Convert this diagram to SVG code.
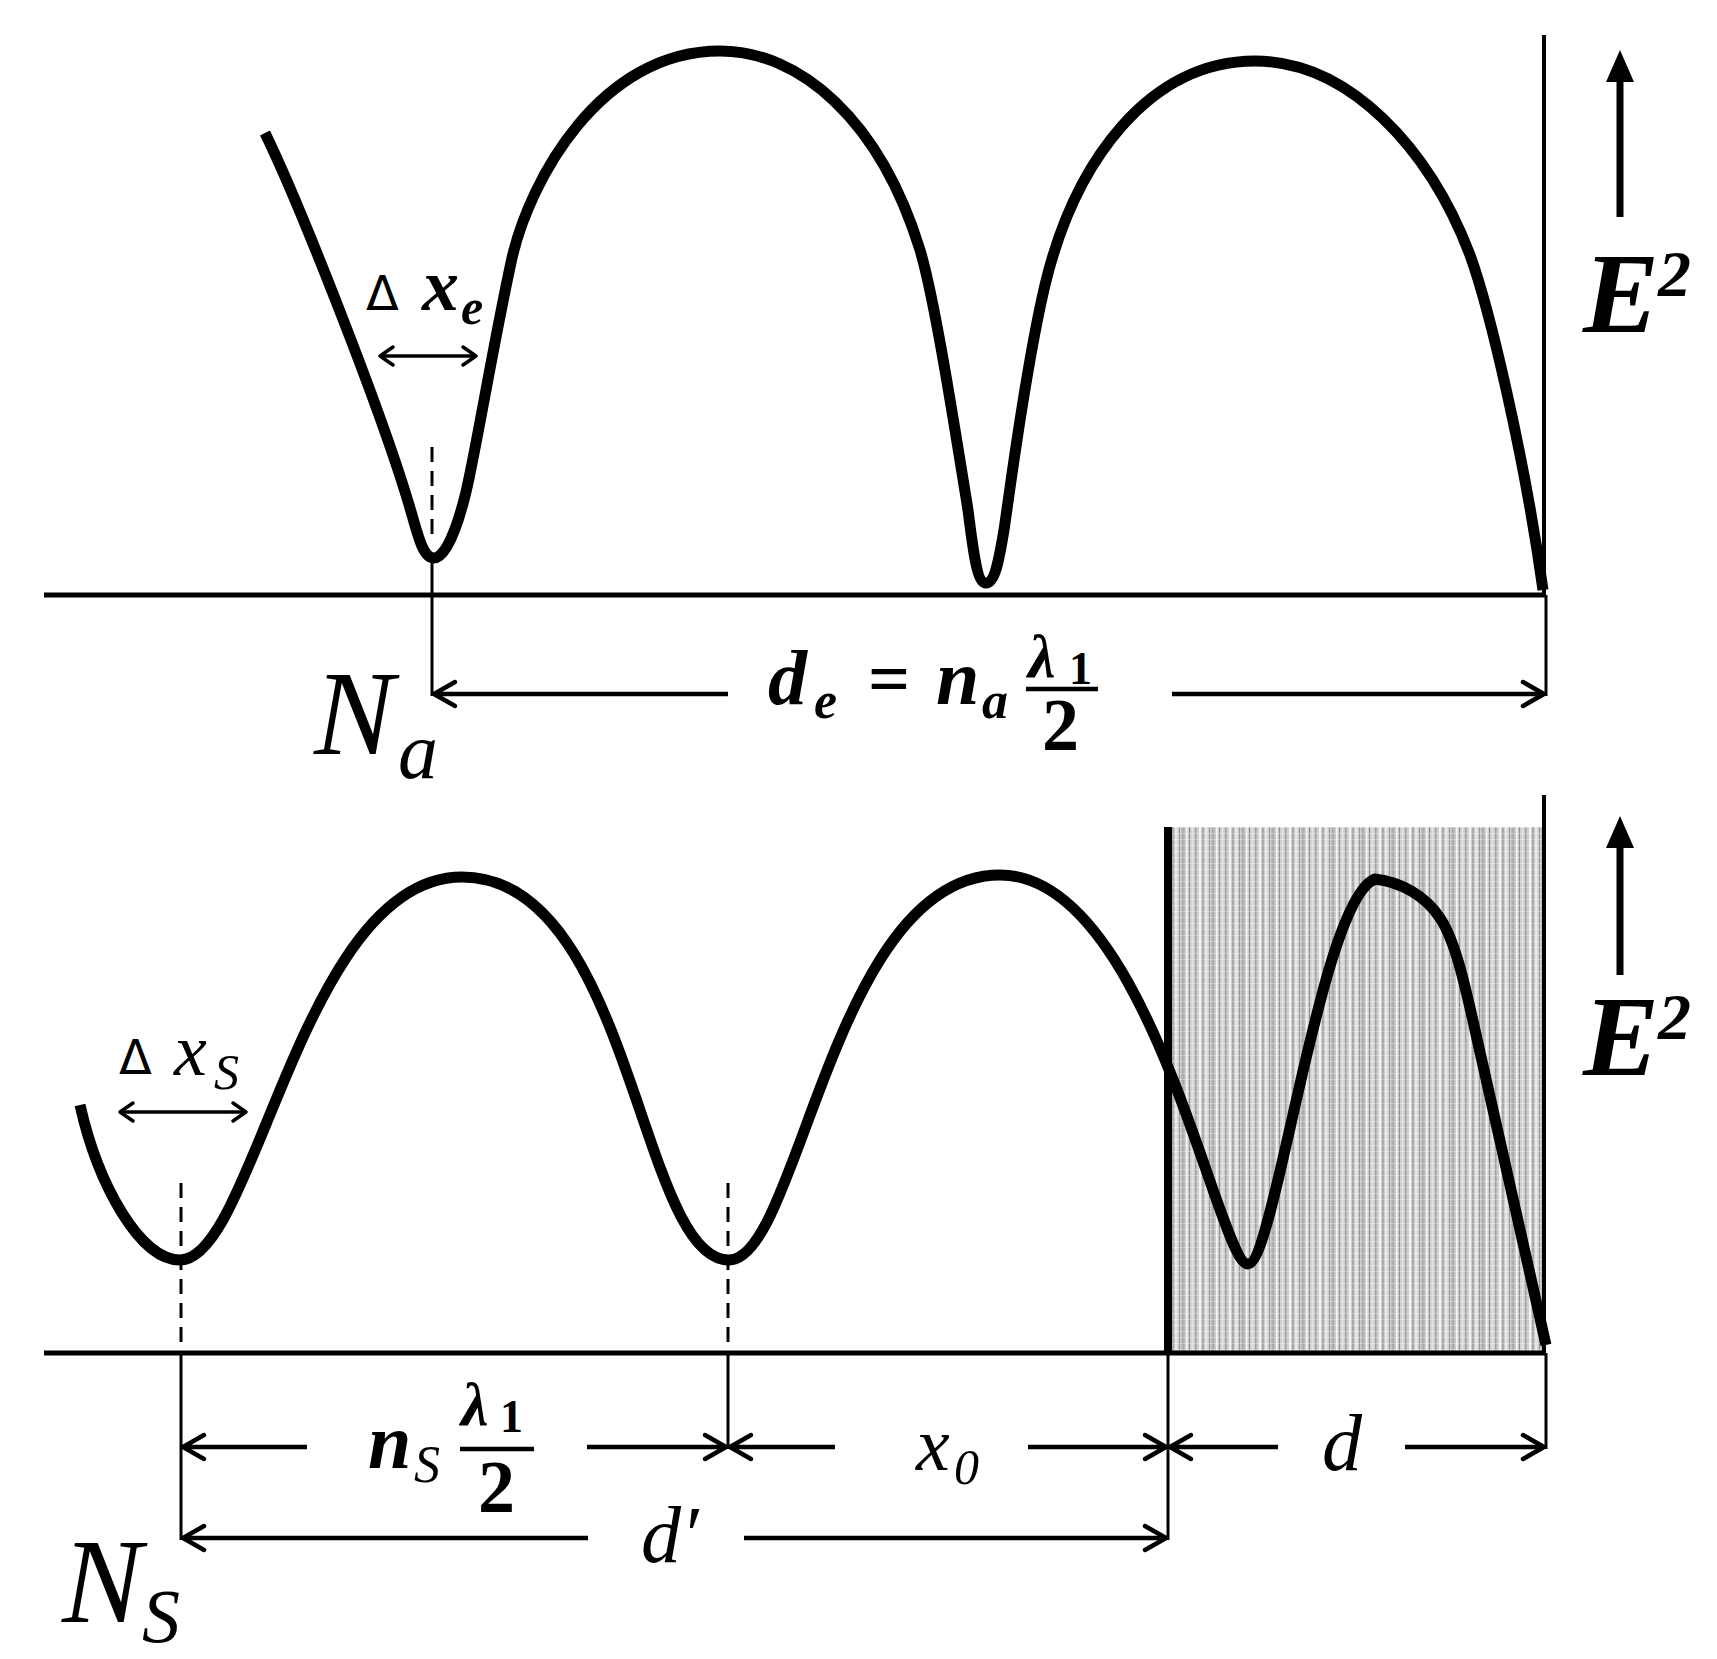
<svg xmlns="http://www.w3.org/2000/svg" width="1717" height="1659" viewBox="0 0 1717 1659">
<style>
.curve{fill:none;stroke:#000;stroke-width:11;stroke-linejoin:round}
.base{stroke:#000;stroke-width:5}
.thin{stroke:#000;stroke-width:3}
.vert{stroke:#000;stroke-width:4}
.dash{stroke:#000;stroke-width:3;stroke-dasharray:15 9}
.dim{stroke:#000;stroke-width:4.5;marker-end:url(#chev)}
.small{stroke:#000;stroke-width:3.5;marker-start:url(#chevs);marker-end:url(#chevs)}
.up{stroke:#000;stroke-width:7}
.m{font-family:"Liberation Serif","Times New Roman",serif;font-style:italic;font-weight:bold;fill:#000}
.i{font-family:"Liberation Serif","Times New Roman",serif;font-style:italic;fill:#000}
.u{font-family:"Liberation Serif","Times New Roman",serif;font-weight:bold;fill:#000}
.delta{font-family:"DejaVu Sans",sans-serif;fill:#000}
</style>
<defs>
<marker id="chev" markerUnits="userSpaceOnUse" viewBox="-26 -16 30 32" markerWidth="30" markerHeight="32" refX="0" refY="0" orient="auto-start-reverse">
<path d="M-21,-12 L0,0 L-21,12" fill="none" stroke="#000" stroke-width="4.5" stroke-linejoin="round" stroke-linecap="round"/>
</marker>
<marker id="chevs" markerUnits="userSpaceOnUse" viewBox="-18 -12 22 24" markerWidth="22" markerHeight="24" refX="0" refY="0" orient="auto-start-reverse">
<path d="M-13,-9 L0,0 L-13,9" fill="none" stroke="#000" stroke-width="3.5" stroke-linejoin="round" stroke-linecap="round"/>
</marker>
<pattern id="tex" patternUnits="userSpaceOnUse" x="1168" y="827" width="30" height="6">
<rect width="30" height="6" fill="#cdcdcd"/>
<rect x="1" width="2" height="6" fill="#f2f2f2"/>
<rect x="4.5" width="1" height="6" fill="#858585"/>
<rect x="7" width="2.5" height="6" fill="#e6e6e6"/>
<rect x="11" width="1" height="6" fill="#959595"/>
<rect x="13.5" width="3" height="6" fill="#adadad"/>
<rect x="18" width="1.5" height="6" fill="#f4f4f4"/>
<rect x="21" width="1" height="6" fill="#8c8c8c"/>
<rect x="23.5" width="2" height="6" fill="#e0e0e0"/>
<rect x="27" width="1.5" height="6" fill="#a0a0a0"/>
<rect width="30" height="1" fill="#fff" opacity="0.3"/>
</pattern>
</defs>
<rect width="1717" height="1659" fill="#fff"/>

<g id="top-panel">
<line class="base" x1="44" y1="595" x2="1546" y2="595"/>
<line class="vert" x1="1544" y1="35" x2="1544" y2="595"/>
<line class="dash" x1="432" y1="447" x2="432" y2="540"/>
<path id="top-curve" class="curve" d="M265,133 C300,205 385,420 412,515 C419,540 424,558 434,558 C446,558 458,525 466,492 C476,450 494,340 512,258 C530,180 600,51 720,51 C800,51 880,120 920,250 C935,300 955,430 968,510 C973,550 977,583 986,583 C995,583 999,560 1004,530 C1010,490 1025,370 1045,285 C1075,160 1150,61 1255,61 C1350,61 1430,150 1470,255 C1490,310 1525,460 1543,590"/>
<g id="top-axis">
<line class="up" x1="1620" y1="217" x2="1620" y2="76"/>
<polygon points="1620,50 1606,82 1634,82" fill="#000"/>
<text class="m" x="1583" y="332" font-size="114">E</text>
<text class="m" x="1658" y="296" font-size="66">2</text>
</g>
<g id="label-dxe">
<text class="delta" x="366" y="310" font-size="48">Δ</text>
<text class="m" x="422" y="310" font-size="74">x</text>
<text class="m" x="461" y="324" font-size="50">e</text>
</g>
<g id="label-Na">
<text class="i" x="314" y="754" font-size="120">N</text>
<text class="i" x="398" y="778" font-size="80">a</text>
</g>
<g id="label-de">
<text class="m" x="768" y="704" font-size="78">d</text>
<text class="m" x="814" y="718" font-size="52">e</text>
<text class="u" x="868" y="704" font-size="74">=</text>
<text class="m" x="936" y="704" font-size="78">n</text>
<text class="m" x="982" y="718" font-size="52">a</text>
<text class="m" x="1028" y="677" font-size="62">λ</text>
<text class="u" x="1069" y="684" font-size="46">1</text>
<line x1="1026" y1="689" x2="1098" y2="689" stroke="#000" stroke-width="4.5"/>
<text class="u" x="1042" y="750" font-size="74">2</text>
</g>
</g>

<g id="bottom-panel">
<rect x="1168" y="827" width="376" height="526" fill="url(#tex)"/>
<line x1="1168" y1="827" x2="1168" y2="1353" stroke="#000" stroke-width="8"/>
<line class="vert" x1="1544" y1="795" x2="1544" y2="1353"/>
<line class="base" x1="44" y1="1353" x2="1546" y2="1353"/>
<line class="dash" x1="181" y1="1183" x2="181" y2="1353"/>
<line class="dash" x1="728" y1="1183" x2="728" y2="1353"/>
<path id="bottom-curve" class="curve" d="M80,1105 C98,1185 140,1260 180,1260 C255,1260 302,877 462,877 C632,877 639,1260 729,1260 C799,1260 833,875 1000,875 C1150,875 1218,1264 1248,1264 C1275,1264 1320,900 1375,879 C1400,882 1425,895 1440,918 C1455,940 1465,985 1475,1030 L1546,1345"/>
<g id="bottom-axis">
<line class="up" x1="1620" y1="975" x2="1620" y2="842"/>
<polygon points="1620,816 1606,848 1634,848" fill="#000"/>
<text class="m" x="1583" y="1075" font-size="114">E</text>
<text class="m" x="1658" y="1039" font-size="66">2</text>
</g>
<g id="label-dxs">
<text class="delta" x="119" y="1074" font-size="48">Δ</text>
<text class="i" x="174" y="1075" font-size="74">x</text>
<text class="i" x="214" y="1089" font-size="50">S</text>
</g>
<g id="label-ns">
<text class="m" x="368" y="1468" font-size="78">n</text>
<text class="i" x="414" y="1482" font-size="52">S</text>
<text class="m" x="461" y="1425" font-size="62">λ</text>
<text class="u" x="500" y="1432" font-size="46">1</text>
<line x1="460" y1="1449" x2="534" y2="1449" stroke="#000" stroke-width="4.5"/>
<text class="u" x="478" y="1512" font-size="74">2</text>
</g>
<g id="label-x0">
<text class="i" x="916" y="1470" font-size="76">x</text>
<text class="i" x="954" y="1484" font-size="50">0</text>
</g>
<text id="label-d" class="i" x="1322" y="1470" font-size="80">d</text>
<text id="label-dprime" class="i" x="641" y="1562" font-size="80">d′</text>
<g id="label-Ns">
<text class="i" x="62" y="1622" font-size="120">N</text>
<text class="i" x="142" y="1642" font-size="76">S</text>
</g>
</g>

<g id="connectors">
<line class="thin" x1="432" y1="558" x2="432" y2="696"/>
<line class="thin" x1="1546" y1="595" x2="1546" y2="696"/>
<line class="dim" x1="728" y1="694" x2="434" y2="694"/>
<line class="dim" x1="1172" y1="694" x2="1544" y2="694"/>
<line class="small" x1="380" y1="356" x2="476" y2="356"/>
<line class="small" x1="120" y1="1112" x2="246" y2="1112"/>
<line class="thin" x1="181" y1="1353" x2="181" y2="1540"/>
<line class="thin" x1="728" y1="1353" x2="728" y2="1449"/>
<line class="thin" x1="1168" y1="1353" x2="1168" y2="1540"/>
<line class="thin" x1="1546" y1="1353" x2="1546" y2="1449"/>
<line class="dim" x1="307" y1="1447" x2="183" y2="1447"/>
<line class="dim" x1="587" y1="1447" x2="726" y2="1447"/>
<line class="dim" x1="835" y1="1447" x2="730" y2="1447"/>
<line class="dim" x1="1028" y1="1447" x2="1166" y2="1447"/>
<line class="dim" x1="1278" y1="1447" x2="1170" y2="1447"/>
<line class="dim" x1="1405" y1="1447" x2="1544" y2="1447"/>
<line class="dim" x1="588" y1="1538" x2="183" y2="1538"/>
<line class="dim" x1="744" y1="1538" x2="1166" y2="1538"/>
</g>
</svg>
